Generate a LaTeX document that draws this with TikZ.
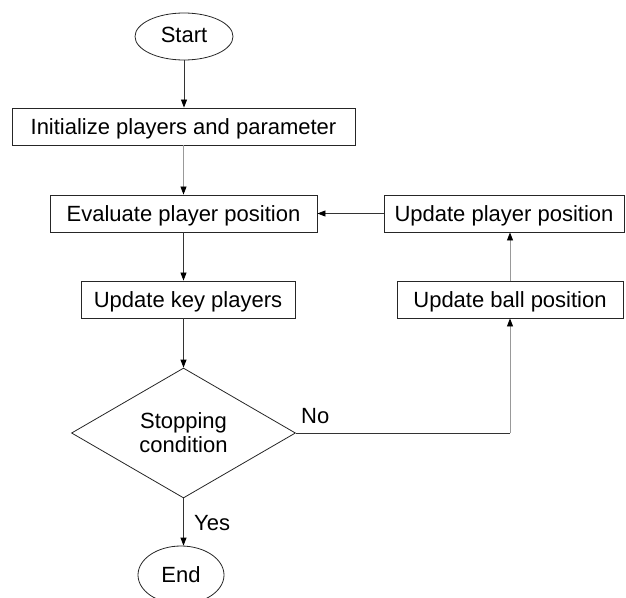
\documentclass[tikz,border=0pt]{standalone}
\usepackage{fontspec}
\setmainfont{Liberation Sans}
\usetikzlibrary{shapes.geometric,arrows.meta}
\begin{document}
\begin{tikzpicture}[x=1pt,y=-1pt,
  font=\fontsize{22}{24}\selectfont,
  box/.style={draw=black!85, line width=0.9pt, inner sep=0pt, minimum height=37pt,
    text height=16pt, text depth=0pt},
  term/.style={draw=black!85, ellipse, line width=0.8pt, inner sep=0pt},
  dec/.style={draw=black!85, diamond, line width=0.8pt, inner sep=0pt,
    minimum width=224pt, minimum height=130pt, align=center},
  arr/.style={draw=black!80, line width=0.8pt,
    -{Triangle[length=8pt,width=6pt,color=black]}},
  arrl/.style={arr, draw=black!40},
  lbl/.style={anchor=base west, inner sep=0pt},
]
\useasboundingbox (0,0) rectangle (626,597);
\node[term, minimum width=98pt, minimum height=47pt, text depth=3pt] (start) at (184,36.5) {Start};
\node[box, minimum width=343pt] (init) at (183.5,126.5) {Initialize players and parameter};
\node[box, minimum width=267pt] (eval) at (183.5,213.5) {Evaluate player position};
\node[box, minimum width=214pt] (key) at (188,299.5) {Update key players};
\node[dec] (dia) at (183.5,433) {Stopping\\condition};
\node[term, minimum width=86pt, minimum height=58pt] (end) at (181,575) {End};
\node[box, minimum width=240pt] (upd) at (504,213.5) {Update player position};
\node[box, minimum width=226pt] (ball) at (510,299.5) {Update ball position};

\draw[arr] (start) -- (start |- init.north);
\draw[arrl] (init) -- (init |- eval.north);
\draw[arr] (eval) -- (eval |- key.north);
\draw[arr] (dia |- key.south) -- (dia);
\draw[arr] (dia) -- (dia |- end.north);
\draw[arr] (upd) -- (eval);
\draw[arrl] (ball) -- (ball |- upd.south);
\draw[black!80, line width=0.8pt] (dia.east) -- (dia.east -| ball);
\draw[arrl] (dia.east -| ball) -- (ball);

\node[lbl] (no) at (301,423) {No};
\node[lbl] (yes) at (194,530) {Yes};
\end{tikzpicture}
\end{document}
